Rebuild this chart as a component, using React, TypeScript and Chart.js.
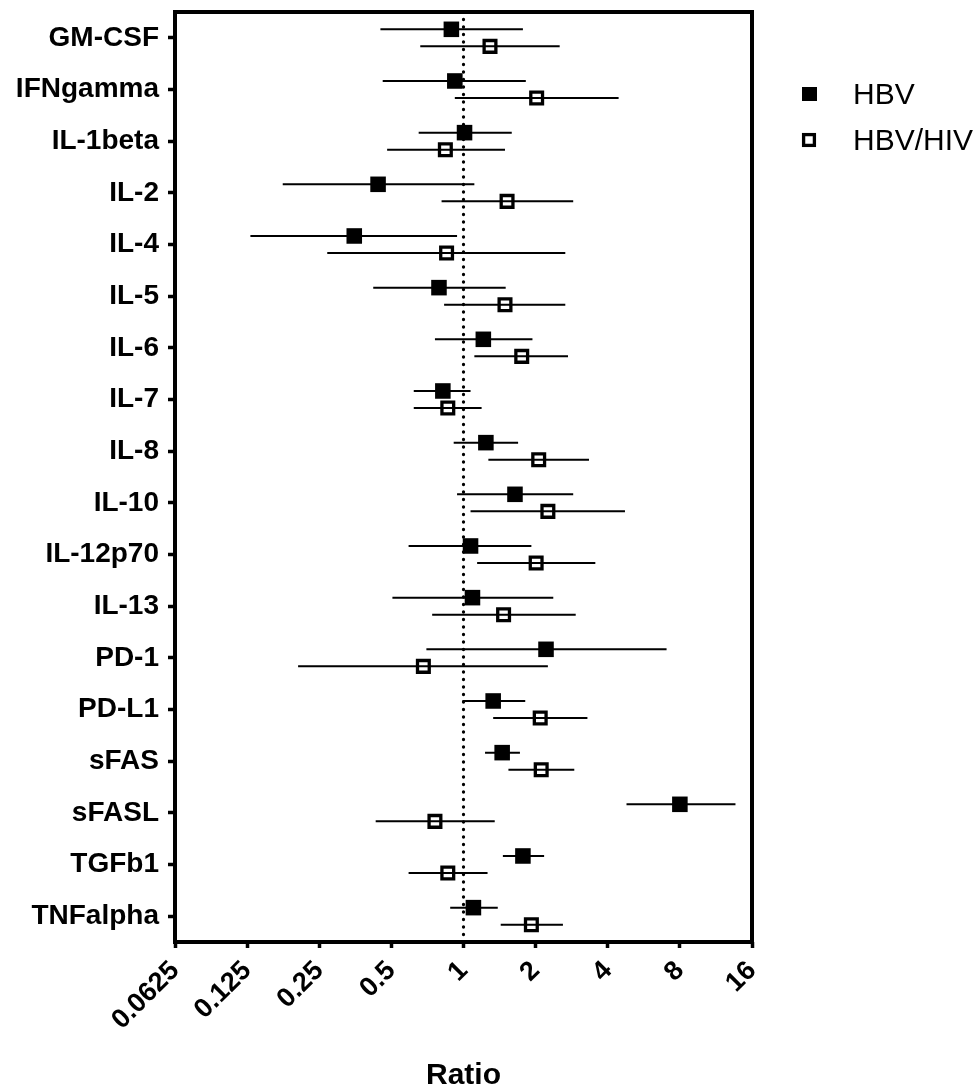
import React, { useEffect, useRef } from 'react';
import { Chart, registerables } from 'chart.js';

Chart.register(...registerables);

const categories = [
  'GM-CSF', 'IFNgamma', 'IL-1beta', 'IL-2', 'IL-4', 'IL-5', 'IL-6', 'IL-7', 'IL-8',
  'IL-10', 'IL-12p70', 'IL-13', 'PD-1', 'PD-L1', 'sFAS', 'sFASL', 'TGFb1', 'TNFalpha',
];

const seriesNames = ['HBV', 'HBV/HIV'];

const hbvRatio = [0.89, 0.92, 1.01, 0.44, 0.35, 0.79, 1.21, 0.82, 1.24, 1.64, 1.07, 1.09, 2.21, 1.33, 1.45, 8.0, 1.77, 1.10];
const hbvLow = [0.45, 0.46, 0.65, 0.176, 0.129, 0.42, 0.76, 0.62, 0.91, 0.94, 0.59, 0.505, 0.70, 0.99, 1.23, 4.79, 1.46, 0.88];
const hbvHigh = [1.77, 1.82, 1.59, 1.11, 0.94, 1.50, 1.94, 1.07, 1.69, 2.87, 1.92, 2.37, 7.04, 1.81, 1.72, 13.65, 2.17, 1.39];

const hivRatio = [1.29, 2.02, 0.84, 1.52, 0.85, 1.49, 1.75, 0.86, 2.06, 2.25, 2.01, 1.47, 0.68, 2.09, 2.11, 0.76, 0.86, 1.92];
const hivLow = [0.66, 0.92, 0.48, 0.81, 0.27, 0.83, 1.11, 0.62, 1.27, 1.07, 1.14, 0.74, 0.204, 1.33, 1.54, 0.43, 0.59, 1.43];
const hivHigh = [2.52, 4.44, 1.49, 2.87, 2.66, 2.66, 2.73, 1.19, 3.34, 4.72, 3.55, 2.94, 2.25, 3.29, 2.90, 1.35, 1.26, 2.60];

const xTickValues = [0.0625, 0.125, 0.25, 0.5, 1, 2, 4, 8, 16];
const xTickLabels = ['0.0625', '0.125', '0.25', '0.5', '1', '2', '4', '8', '16'];
const xTitle = 'Ratio';
const referenceValue = 1;

const FONT = "'Liberation Sans', Arial, Helvetica, sans-serif";

export default function App() {
  const ref = useRef<HTMLCanvasElement>(null);

  useEffect(() => {
    const canvas = ref.current;
    if (!canvas) return;

    const offHBV = -0.165;
    const offHIV = 0.165;
    const yMin = -0.5;
    const yMax = categories.length - 0.5;

    const points = (vals: number[], off: number) => vals.map((v, i) => ({ x: v, y: i + off }));
    const bars = (lo: number[], hi: number[], off: number) => {
      const d: any[] = [];
      lo.forEach((l, i) => {
        d.push({ x: l, y: i + off }, { x: hi[i], y: i + off }, { x: null, y: null });
      });
      return d;
    };

    const framePlugin = {
      id: 'frame',
      afterDatasetsDraw(chart: any) {
        const { ctx, chartArea: a } = chart;
        ctx.save();
        ctx.strokeStyle = '#000';
        ctx.lineWidth = 4;
        ctx.strokeRect(a.left, a.top, a.right - a.left, a.bottom - a.top);
        ctx.restore();
      },
    };

    const legendPlugin = {
      id: 'sideLegend',
      afterDraw(chart: any) {
        const { ctx } = chart;
        const ds = chart.data.datasets;
        ctx.save();
        ctx.fillStyle = '#000';
        ctx.strokeStyle = '#000';
        ctx.font = `30px ${FONT}`;
        ctx.textAlign = 'left';
        ctx.textBaseline = 'alphabetic';
        ctx.fillRect(802, 87, 15, 14);
        ctx.fillText(ds[0].label, 853, 104);
        ctx.lineWidth = 3.3;
        ctx.strokeRect(803.6, 134.6, 10.8, 10.8);
        ctx.fillText(ds[1].label, 853, 150);
        ctx.restore();
      },
    };

    const zeroPad = (axis: any) => {
      axis.paddingTop = 0;
      axis.paddingBottom = 0;
      axis.paddingLeft = 0;
      axis.paddingRight = 0;
    };

    const chart = new Chart(canvas, {
      type: 'line',
      data: {
        datasets: [
          {
            label: seriesNames[0],
            data: points(hbvRatio, offHBV),
            showLine: false,
            pointStyle: 'rect',
            pointRadius: 11,
            pointBackgroundColor: '#000',
            pointBorderColor: '#000',
            pointBorderWidth: 0,
            order: 0,
          },
          {
            label: seriesNames[1],
            data: points(hivRatio, offHIV),
            showLine: false,
            pointStyle: 'rect',
            pointRadius: 8.3,
            pointBackgroundColor: 'rgba(0,0,0,0)',
            pointBorderColor: '#000',
            pointBorderWidth: 3.3,
            order: 1,
          },
          {
            label: 'HBV CI',
            data: bars(hbvLow, hbvHigh, offHBV),
            borderColor: '#000',
            borderWidth: 2,
            pointRadius: 0,
            spanGaps: false,
            order: 2,
          },
          {
            label: 'HBV/HIV CI',
            data: bars(hivLow, hivHigh, offHIV),
            borderColor: '#000',
            borderWidth: 2,
            pointRadius: 0,
            spanGaps: false,
            order: 3,
          },
          {
            label: 'Reference',
            data: [{ x: referenceValue, y: yMin }, { x: referenceValue, y: yMax }],
            borderColor: '#000',
            borderWidth: 3.3,
            borderDash: [0, 7.5],
            borderCapStyle: 'round',
            pointRadius: 0,
            order: 4,
          },
        ] as any,
      },
      options: {
        responsive: false,
        animation: false,
        events: [],
        layout: { padding: { left: 0, right: 228, top: 12, bottom: 0 } },
        plugins: {
          legend: { display: false },
          tooltip: { enabled: false },
        },
        scales: {
          x: {
            type: 'logarithmic',
            position: 'bottom',
            min: xTickValues[0],
            max: xTickValues[xTickValues.length - 1],
            afterBuildTicks: (axis: any) => {
              axis.ticks = xTickValues.map((v) => ({ value: v }));
            },
            afterFit: (axis: any) => {
              axis.height = 144;
              zeroPad(axis);
            },
            ticks: {
              autoSkip: false,
              minRotation: 45,
              maxRotation: 45,
              padding: 7,
              color: '#000',
              font: { family: FONT, size: 27, weight: 'bold' },
              callback: (_v: any, i: number) => xTickLabels[i],
            },
            grid: {
              drawOnChartArea: false,
              drawTicks: true,
              tickLength: 6,
              tickWidth: 3.5,
              tickColor: '#000',
              color: '#000',
            },
            border: { display: false },
            title: {
              display: true,
              text: xTitle,
              color: '#000',
              font: { family: FONT, size: 30, weight: 'bold', lineHeight: 0.7 },
              padding: { top: 0, bottom: 0 },
            },
          },
          y: {
            type: 'linear',
            min: yMin,
            max: yMax,
            reverse: true,
            afterBuildTicks: (axis: any) => {
              axis.ticks = categories.map((_c, i) => ({ value: i }));
            },
            afterFit: (axis: any) => {
              axis.width = 175;
              zeroPad(axis);
            },
            ticks: {
              autoSkip: false,
              padding: 9,
              color: '#000',
              font: { family: FONT, size: 28, weight: 'bold' },
              callback: (v: any) => categories[Math.round(Number(v))],
            },
            grid: {
              drawOnChartArea: false,
              drawTicks: true,
              tickLength: 7,
              tickWidth: 3.5,
              tickColor: '#000',
              color: '#000',
            },
            border: { display: false },
          },
        },
      } as any,
      plugins: [framePlugin, legendPlugin],
    });

    return () => chart.destroy();
  }, []);

  return (
    <div style={{ position: 'absolute', left: 0, top: 0, width: 980, height: 1086, background: '#fff' }}>
      <canvas ref={ref} width={980} height={1086} style={{ display: 'block', width: 980, height: 1086 }} />
    </div>
  );
}
